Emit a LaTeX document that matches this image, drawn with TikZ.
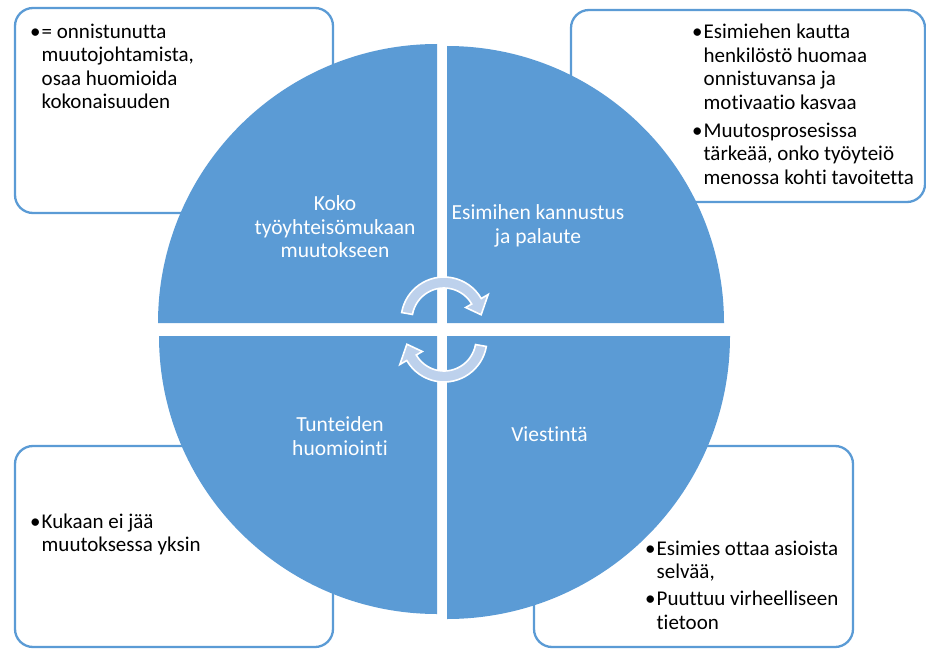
\documentclass[tikz,border=0pt]{standalone}
\usepackage{fontspec}
\setmainfont{Carlito}[Ligatures=NoCommon]
\definecolor{qblue}{HTML}{5B9BD5}
\definecolor{arrowfill}{HTML}{BDD1EC}
% one bullet item: bullet plus a block of lines, first line on the node baseline
\newcommand{\bitem}[1]{\makebox[11.5pt][l]{\textbullet}\begin{tabular}[t]{@{}l@{}}#1\end{tabular}}
\tikzset{
  notebox/.style={draw=qblue, line width=2.3pt, rounded corners=18pt, fill=white, inner sep=0pt},
  quarter/.style={fill=qblue},
  qtext/.style={text=white, align=center, font=\fontsize{21.5}{23.5}\selectfont, inner sep=0pt},
  listitem/.style={font=\fontsize{21}{23.5}\selectfont, inner sep=0pt, anchor=base west},
  cyclearrow/.style={fill=arrowfill, draw=white, line width=1.6pt, line join=miter}
}
\begin{document}
\begin{tikzpicture}[x=1pt, y=-1pt]
\useasboundingbox (0,0) rectangle (926,650);

% note boxes behind the circle
\node[notebox, minimum width=318pt, minimum height=205pt] (boxTL) at (174,110.5) {};
\node[notebox, minimum width=354pt, minimum height=192pt] (boxTR) at (748,106) {};
\node[notebox, minimum width=318pt, minimum height=201pt] (boxBL) at (174,546.5) {};
\node[notebox, minimum width=319pt, minimum height=201pt] (boxBR) at (693.5,546.5) {};

% four quarter discs
\fill[quarter] (437,323) -- ++(-279,0) arc[start angle=180, end angle=270, radius=279] -- cycle;
\fill[quarter] (447,323) -- ++(0,-277) arc[start angle=270, end angle=360, radius=277] -- cycle;
\fill[quarter] (437,336) -- ++(0,278) arc[start angle=90, end angle=180, radius=278] -- cycle;
\fill[quarter] (447,336) -- ++(283,0) arc[start angle=0, end angle=90, radius=283] -- cycle;

% circular arrows in the middle
\begin{scope}[shift={(444,320)}]
  \draw[cyclearrow] (-170:43) arc[start angle=-170, end angle=-30, radius=43]
    -- (-30:51) -- (-8:37.5) -- (-30:25) -- (-30:32)
    arc[start angle=-30, end angle=-170, radius=32] -- cycle;
\end{scope}
\begin{scope}[shift={(444,339)}]
  \draw[cyclearrow] (10:43) arc[start angle=10, end angle=150, radius=43]
    -- (150:51) -- (172:37.5) -- (150:25) -- (150:32)
    arc[start angle=150, end angle=10, radius=32] -- cycle;
\end{scope}

% quarter labels
\node[qtext] (qTL) at (335,226.7) {Koko\\työyhteisömukaan\\muutokseen};
\node[qtext] (qTR) at (538,226) {Esimihen kannustus\\ja palaute};
\node[qtext] (qBL) at (340,436) {Tunteiden\\huomiointi};
\node[qtext] (qBR) at (549.5,434) {Viestintä};

% box texts
\node[listitem] (tTL) at (30,38.3) {\bitem{= onnistunutta\\muutojohtamista,\\osaa huomioida\\kokonaisuuden}};
\node[listitem] (tTR1) at (692,39) {\bitem{Esimiehen kautta\\henkilöstö huomaa\\onnistuvansa ja\\motivaatio kasvaa}};
\node[listitem] (tTR2) at (692,137.3) {\bitem{Muutosprosesissa\\tärkeää, onko työyteiö\\menossa kohti tavoitetta}};
\node[listitem] (tBL) at (30,528.3) {\bitem{Kukaan ei jää\\muutoksessa yksin}};
\node[listitem] (tBR1) at (645,555) {\bitem{Esimies ottaa asioista\\selvää,}};
\node[listitem] (tBR2) at (645,605.7) {\bitem{Puuttuu virheelliseen\\tietoon}};
\end{tikzpicture}
\end{document}
